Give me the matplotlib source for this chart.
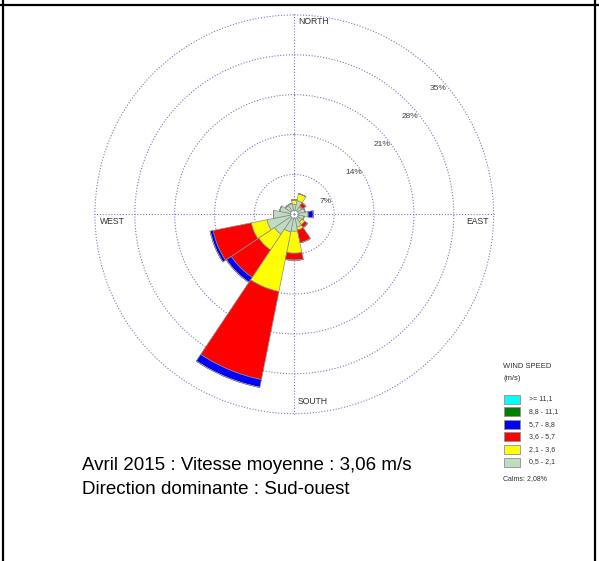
import numpy as np
import matplotlib.pyplot as plt
from matplotlib.patches import Rectangle
from matplotlib.lines import Line2D

plt.rcParams['font.family'] = ['Liberation Sans', 'DejaVu Sans']

W, H = 599, 561

# wind directions (compass degrees, clockwise from north)
directions = ['N', 'NNE', 'NE', 'ENE', 'E', 'ESE', 'SE', 'SSE',
              'S', 'SSW', 'SW', 'WSW', 'W', 'WNW', 'NW', 'NNW']
dir_deg = np.arange(16) * 22.5

# frequency (%) per speed class and direction
spd_05_21 = [1.05, 1.75, 0.88, 1.23, 1.75, 1.05, 0.88, 1.58, 2.28, 2.45, 3.50, 4.20, 2.98, 1.93, 1.23, 1.23]
spd_21_36 = [0.79, 1.23, 0.18, 0.00, 0.00, 0.00, 0.61, 0.53, 3.85, 10.68, 3.33, 2.80, 0.00, 0.00, 0.00, 0.00]
spd_36_57 = [0.00, 0.00, 0.70, 0.00, 0.00, 0.00, 0.61, 2.28, 1.23, 15.75, 5.78, 6.83, 0.00, 0.00, 0.00, 0.00]
spd_57_88 = [0.00, 0.00, 0.00, 0.00, 0.88, 0.00, 0.00, 0.00, 0.00, 1.40, 1.05, 0.53, 0.00, 0.00, 0.00, 0.00]
spd_88_111 = [0.0] * 16
spd_111 = [0.0] * 16
calms = 2.08

classes = ['0,5 - 2,1', '2,1 - 3,6', '3,6 - 5,7', '5,7 - 8,8', '8,8 - 11,1', '>= 11,1']
colors = ['#c0dcc0', '#ffff00', '#ff0000', '#0000ff', '#008000', '#00ffff']
series = [spd_05_21, spd_21_36, spd_36_57, spd_57_88, spd_88_111, spd_111]

rings = [7, 14, 21, 28, 35]
calm_r = 0.7  # radius of the empty calm circle


def fx(x):
    return x / W


def fy(y):
    return 1 - y / H


fig = plt.figure(figsize=(W / 100, H / 100), dpi=100)

# polar axes: centre (294, 214) px, 35% ring at ~200 px
cx, cy, R = 294.3, 214.3, 200.5
rmax = 35.2
ax = fig.add_axes([fx(cx - R), fy(cy + R), 2 * R / W, 2 * R / H], projection='polar')
ax.set_theta_zero_location('N')
ax.set_theta_direction(-1)
ax.set_ylim(0, rmax)
ax.spines['polar'].set_visible(False)
ax.set_facecolor('none')

grid_col = '#7777c4'
dot = (0, (1, 1.6))
ax.set_rgrids(rings, labels=[''] * len(rings))
ax.set_thetagrids([0, 90, 180, 270], labels=[''] * 4)
ax.grid(True, color=grid_col, linestyle=dot, linewidth=0.8)
ax.tick_params(length=0)

theta = np.deg2rad(dir_deg)
width = np.deg2rad(22.5)
bottom = np.full(16, calm_r)
for vals, col in zip(series, colors):
    vals = np.array(vals)
    ax.bar(theta, vals, width=width, bottom=bottom, color=col,
           edgecolor='#8a8a8a', linewidth=0.5, zorder=3)
    bottom = bottom + vals

# ring labels
for r in rings:
    ax.annotate(f'{r}%', xy=(np.deg2rad(45), r), xytext=(3, -15),
                textcoords='offset pixels', ha='center', va='center',
                fontsize=6, color='#404040')

# compass labels
fig.text(fx(298), fy(22), 'NORTH', fontsize=6.2, ha='left', va='center', color='#303030')
fig.text(fx(298), fy(402), 'SOUTH', fontsize=6.2, ha='left', va='center', color='#303030')
fig.text(fx(100), fy(221), 'WEST', fontsize=6.2, ha='left', va='center', color='#303030')
fig.text(fx(489), fy(221), 'EAST', fontsize=6.2, ha='right', va='center', color='#303030')

# legend
fig.text(fx(503), fy(367), 'WIND SPEED', fontsize=5.5, ha='left', va='center', color='#303030')
fig.text(fx(503), fy(379), '(m/s)', fontsize=5.5, ha='left', va='center', color='#303030')
row_y0, row_dy = 399, 12.6
for i, (lab, col) in enumerate(zip(classes[::-1], colors[::-1])):
    y = row_y0 + i * row_dy
    fig.patches.append(Rectangle((fx(504), fy(y + 4.5)), 16 / W, 9 / H,
                                 transform=fig.transFigure, facecolor=col,
                                 edgecolor='#909090', linewidth=0.6))
    fig.text(fx(529), fy(y), lab, fontsize=5, ha='left', va='center', color='#303030')
fig.text(fx(503), fy(479), f'Calms: {calms:.2f}%'.replace('.', ','), fontsize=5,
         ha='left', va='center', color='#303030')

# caption
fig.text(fx(82), fy(470), 'Avril 2015 : Vitesse moyenne : 3,06 m/s', fontsize=13.5,
         ha='left', va='baseline', color='black')
fig.text(fx(82), fy(494), 'Direction dominante : Sud-ouest', fontsize=13.5,
         ha='left', va='baseline', color='black')

# table borders
for line in [((0, 1), (fy(5), fy(5))), ((fx(2.5), fx(2.5)), (0, 1)),
             ((fx(594.5), fx(594.5)), (0, 1))]:
    fig.add_artist(Line2D(line[0], line[1], color='black', linewidth=1.6,
                          transform=fig.transFigure))

fig.savefig('out.png', dpi=100)
